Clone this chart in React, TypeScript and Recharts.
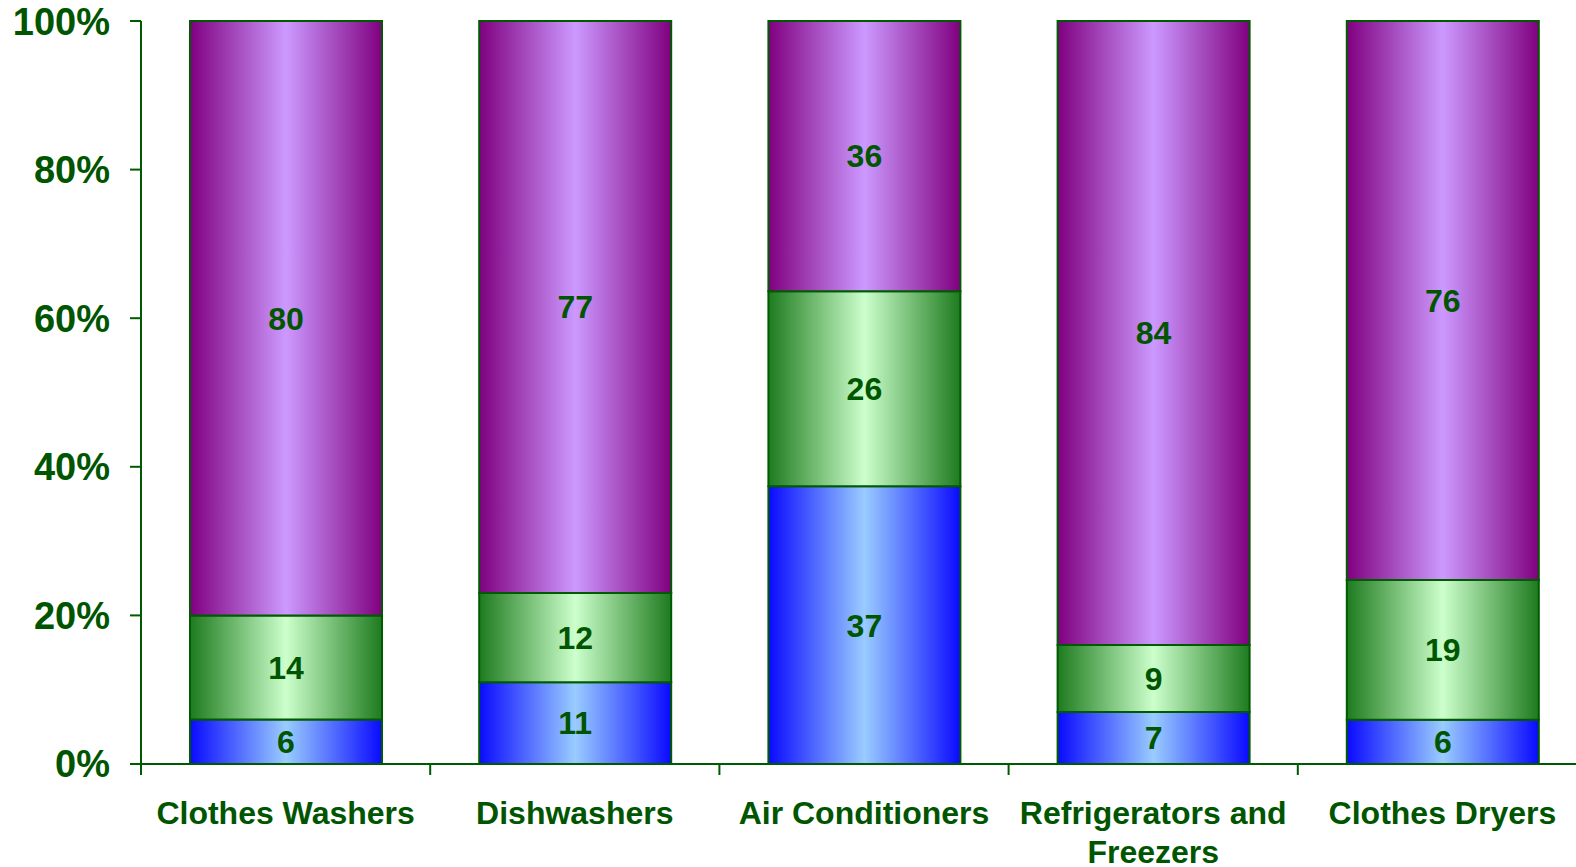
import { BarChart, Bar, XAxis, YAxis, LabelList } from "recharts";

const CATEGORIES = [
  "Clothes Washers",
  "Dishwashers",
  "Air Conditioners",
  "Refrigerators and Freezers",
  "Clothes Dryers",
];
const BLUE = [6, 11, 37, 7, 6];
const GREEN = [14, 12, 26, 9, 19];
const PURPLE = [80, 77, 36, 84, 76];
const Y_TICKS = [0, 0.2, 0.4, 0.6, 0.8, 1];

const data = CATEGORIES.map((name, i) => ({
  name,
  blue: BLUE[i],
  green: GREEN[i],
  purple: PURPLE[i],
}));

const FONT = "'Liberation Sans', Arial, sans-serif";
const INK = "#005500";
const BORDER = "#005a00";

// greedy word wrap measured on a canvas
let ctx: CanvasRenderingContext2D | null = null;
const wrap = (text: string, maxWidth: number, font: string) => {
  if (!ctx) ctx = document.createElement("canvas").getContext("2d");
  if (!ctx) return [text];
  ctx.font = font;
  const lines: string[] = [];
  let line = "";
  text.split(" ").forEach((w) => {
    const test = line ? line + " " + w : w;
    if (line && ctx!.measureText(test).width > maxWidth) {
      lines.push(line);
      line = w;
    } else {
      line = test;
    }
  });
  if (line) lines.push(line);
  return lines;
};

// label plus Excel-style tick marks on the category boundaries
const CategoryTick = (props: any) => {
  const { x, y, payload, index, width } = props;
  const half = payload.offset || (width || 0) / CATEGORIES.length / 2;
  const lines = wrap(payload.value, 275, `bold 32px ${FONT}`);
  const last = index === CATEGORIES.length - 1;
  return (
    <g>
      <line x1={x - half} x2={x - half} y1={y} y2={y + 11} stroke={BORDER} strokeWidth={2} />
      {last && (
        <line x1={x + half} x2={x + half} y1={y} y2={y + 11} stroke={BORDER} strokeWidth={2} />
      )}
      <text
        x={x}
        y={y + 60}
        textAnchor="middle"
        fill={INK}
        fontSize={32}
        fontWeight="bold"
        fontFamily={FONT}
      >
        {lines.map((l, i) => (
          <tspan key={i} x={x} dy={i === 0 ? 0 : 39}>
            {l}
          </tspan>
        ))}
      </text>
    </g>
  );
};

const gradient = (id: string, edge: string, mid: string) => (
  <linearGradient id={id} x1="0" y1="0" x2="1" y2="0">
    <stop offset="0%" stopColor={edge} />
    <stop offset="50%" stopColor={mid} />
    <stop offset="100%" stopColor={edge} />
  </linearGradient>
);

const labelProps = {
  position: "center" as const,
  fill: INK,
  fontSize: 32,
  fontWeight: "bold",
  fontFamily: FONT,
};

export default function App() {
  return (
    <div style={{ position: "absolute", left: 0, top: 0, background: "#fff" }}>
      <BarChart
        width={1576}
        height={867}
        data={data}
        stackOffset="expand"
        margin={{ top: 21, right: -11, bottom: 102, left: 0 }}
      >
        <defs>
          {gradient("gBlue", "#0a0aff", "#99ccff")}
          {gradient("gGreen", "#1e7b1e", "#ccffcc")}
          {gradient("gPurple", "#800080", "#cc99ff")}
        </defs>
        <XAxis
          dataKey="name"
          height={1}
          axisLine={{ stroke: BORDER, strokeWidth: 2 }}
          tickLine={false}
          tickSize={0}
          tickMargin={0}
          interval={0}
          tick={<CategoryTick />}
        />
        <YAxis
          domain={[0, 1]}
          ticks={Y_TICKS}
          width={141}
          tickSize={11}
          tickMargin={20}
          axisLine={{ stroke: BORDER, strokeWidth: 2 }}
          tickLine={{ stroke: BORDER, strokeWidth: 2 }}
          tick={{ fill: INK, fontSize: 38, fontWeight: "bold", fontFamily: FONT }}
          tickFormatter={(v: number) => `${Math.round(v * 100)}%`}
        />
        <Bar
          dataKey="blue"
          stackId="s"
          barSize={192}
          fill="url(#gBlue)"
          stroke={BORDER}
          strokeWidth={2}
          isAnimationActive={false}
        >
          <LabelList dataKey="blue" {...labelProps} />
        </Bar>
        <Bar
          dataKey="green"
          stackId="s"
          barSize={192}
          fill="url(#gGreen)"
          stroke={BORDER}
          strokeWidth={2}
          isAnimationActive={false}
        >
          <LabelList dataKey="green" {...labelProps} />
        </Bar>
        <Bar
          dataKey="purple"
          stackId="s"
          barSize={192}
          fill="url(#gPurple)"
          stroke={BORDER}
          strokeWidth={2}
          isAnimationActive={false}
        >
          <LabelList dataKey="purple" {...labelProps} />
        </Bar>
      </BarChart>
    </div>
  );
}
